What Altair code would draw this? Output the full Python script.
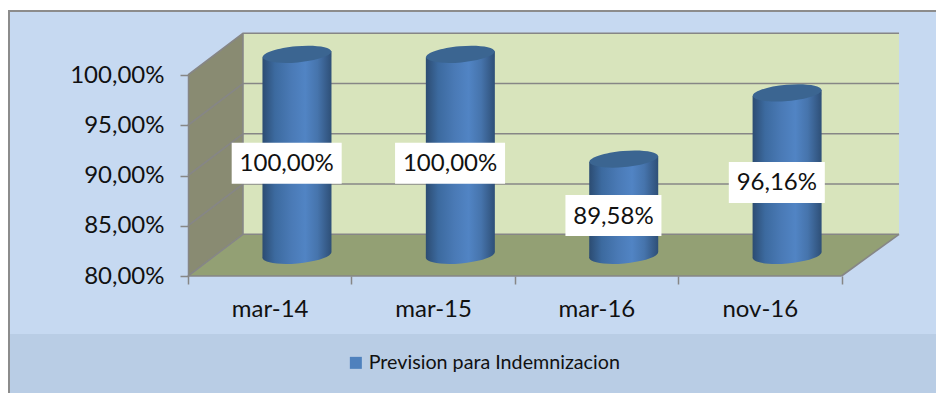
import altair as alt
import pandas as pd

categorias = ["mar-14", "mar-15", "mar-16", "nov-16"]
valores = [100.0, 100.0, 89.58, 96.16]
etiquetas = ["100,00%", "100,00%", "89,58%", "96,16%"]
serie = "Prevision para Indemnizacion"
y_ticks = [80, 85, 90, 95, 100]

FONT = "Lato"
GRID = "#868686"
DEPTH_L, DEPTH_R, DEPTH_Y = 0.3365, 0.352, 4.15
ELLIPSE = "M-0.996,0.087A1,0.24,-5,0,1,0.996,-0.087A1,0.24,-5,0,1,-0.996,0.087Z"
CIL_DX, CIL_HW, CIL_DY, CIL_SLANT = 0.167, 0.2112, 2.06, 0.3

df = pd.DataFrame({"cat": categorias, "valor": valores, "etiqueta": etiquetas})

y_axis = alt.Axis(
    values=y_ticks, title=None, grid=False, tickSize=8, tickColor=GRID, tickWidth=1.5,
    domainColor=GRID, domainWidth=1.5, labelFont=FONT, labelFontSize=24, labelColor="#111111",
    labelPadding=16, zindex=1,
    labelExpr="replace(format(datum.value,'.2f'),'.',',')+'%'",
)
y_scale = alt.Scale(domain=[80, 100], nice=False, zero=False, clamp=False)


def Y(field):
    return alt.Y(field, type="quantitative", scale=y_scale, axis=y_axis)


x_scale_q = alt.Scale(domain=[0, 4], nice=False, zero=False)
x_scale_b = alt.Scale(type="band", domain=categorias, paddingInner=0, paddingOuter=0)
X_Q = alt.X("x:Q", scale=x_scale_q, axis=None)
X_B = alt.X("cat:N", scale=x_scale_b, axis=None, sort=categorias)

# panel decoration
fondo = alt.Chart(pd.DataFrame({"a": [0]})).mark_rect(color="#C6D9F1").encode(
    x=alt.value(-180), x2=alt.value(760), y=alt.value(-65), y2=alt.value(330))
banda = alt.Chart(pd.DataFrame({"a": [0]})).mark_rect(color="#B9CDE5").encode(
    x=alt.value(-180), x2=alt.value(760), y=alt.value(259), y2=alt.value(330))
borde_top = alt.Chart(pd.DataFrame({"a": [0]})).mark_rule(color="#8C8C8C", strokeWidth=2).encode(
    x=alt.value(-180), x2=alt.value(760), y=alt.value(-64))
borde_izq = alt.Chart(pd.DataFrame({"a": [0]})).mark_rule(color="#8C8C8C", strokeWidth=2).encode(
    x=alt.value(-179), y=alt.value(-65), y2=alt.value(330))

leyenda = alt.Chart(pd.DataFrame({"serie": [serie]})).mark_square(size=0).encode(
    x=alt.value(0), y=alt.value(0),
    color=alt.Color("serie:N", scale=alt.Scale(range=["#4F81BD"]), legend=alt.Legend(
        orient="none", legendX=158, legendY=278, title=None, symbolType="square", symbolSize=144,
        symbolOpacity=1, symbolStrokeWidth=0, symbolFillColor="#4F81BD", labelFont=FONT, labelFontSize=19.7,
        labelColor="#111111", labelOffset=3, labelLimit=400, padding=0)))

# walls in data units of the projected box
pared_fondo = alt.Chart(pd.DataFrame({"x": [DEPTH_L], "x2": [4 + DEPTH_R], "y": [100 + DEPTH_Y], "y2": [80 + DEPTH_Y]})).mark_rect(
    color="#D8E4BC").encode(x=X_Q, x2="x2:Q", y=Y("y"), y2="y2:Q")
pared_lat = alt.Chart(pd.DataFrame({"x": [0, DEPTH_L], "y": [100, 100 + DEPTH_Y], "y2": [80, 80 + DEPTH_Y]})).mark_area(
    color="#898B72", opacity=1).encode(x=X_Q, y=Y("y"), y2="y2:Q")
piso = alt.Chart(pd.DataFrame({
    "x": [0, DEPTH_L, 4, 4 + DEPTH_R],
    "y": [80, 80 + DEPTH_Y, 80 + DEPTH_Y, 80 + DEPTH_Y],
    "y2": [80, 80, 80, 80 + DEPTH_Y]})).mark_area(color="#93A074", opacity=1).encode(x=X_Q, y=Y("y"), y2="y2:Q")

filas = []
for v in y_ticks:
    filas += [{"g": v, "o": 0, "x": 0, "y": v},
              {"g": v, "o": 1, "x": DEPTH_L, "y": v + DEPTH_Y},
              {"g": v, "o": 2, "x": 4 + DEPTH_R, "y": v + DEPTH_Y}]
rejilla = alt.Chart(pd.DataFrame(filas)).mark_line(color=GRID, strokeWidth=1.6).encode(
    x=X_Q, y=Y("y"), detail="g:N", order="o:Q")
aristas = alt.Chart(pd.DataFrame([
    {"g": "a", "o": 0, "x": DEPTH_L, "y": 80 + DEPTH_Y},
    {"g": "a", "o": 1, "x": DEPTH_L, "y": 100 + DEPTH_Y},
    {"g": "b", "o": 0, "x": 4, "y": 80},
    {"g": "b", "o": 1, "x": 4 + DEPTH_R, "y": 80 + DEPTH_Y},
    {"g": "c", "o": 0, "x": 0, "y": 80},
    {"g": "c", "o": 1, "x": 4, "y": 80},
])).mark_line(color=GRID, strokeWidth=1.6).encode(x=X_Q, y=Y("y"), detail="g:N", order="o:Q")

# x axis (band ticks at the category edges)
eje_x = alt.Chart(df).mark_point(opacity=0, size=0).encode(
    x=alt.X("cat:N", scale=x_scale_b, sort=categorias, axis=alt.Axis(
        title=None, tickBand="extent", tickSize=8, tickColor=GRID, tickWidth=1.5, domain=False, labelAngle=0,
        labelFont=FONT, labelFontSize=24, labelColor="#111111", labelPadding=13, zindex=1)),
    y=Y("valor"))

DX, DY = 27.3, -20.7
grad = alt.LinearGradient(gradient="linear", x1=0, x2=1, y1=0, y2=0, stops=[
    alt.GradientStop(color="#2C4C72", offset=0),
    alt.GradientStop(color="#3C6A9F", offset=0.18),
    alt.GradientStop(color="#4A7AB6", offset=0.42),
    alt.GradientStop(color="#5184C4", offset=0.62),
    alt.GradientStop(color="#4674AC", offset=0.8),
    alt.GradientStop(color="#2E4F77", offset=1),
])

# cylinder sides: slanted quads in data units, skewed like the ellipse caps
lados = []
for i, v in enumerate(valores):
    cx = i + 0.5 + CIL_DX
    lados += [{"g": i, "x": cx - CIL_HW, "y": v + CIL_DY - CIL_SLANT, "y2": 80 + CIL_DY - CIL_SLANT},
              {"g": i, "x": cx + CIL_HW, "y": v + CIL_DY + CIL_SLANT, "y2": 80 + CIL_DY + CIL_SLANT}]

base_cil = alt.Chart(df).transform_calculate(cero="80").mark_point(
    shape=ELLIPSE, size=4761, filled=True, fill=grad, strokeWidth=0, opacity=1, xOffset=DX, yOffset=DY
).encode(x=X_B, y=Y("cero"))
cuerpo = alt.Chart(pd.DataFrame(lados)).mark_area(fill=grad, opacity=1).encode(
    x=X_Q, y=alt.Y("y:Q", scale=y_scale, axis=y_axis, stack=None), y2="y2:Q", detail="g:N")
tapa = alt.Chart(df).mark_point(
    shape=ELLIPSE, size=4761, filled=True, fill="#3B6591", strokeWidth=0, opacity=1, xOffset=DX, yOffset=DY
).encode(x=X_B, y=Y("valor"))

MID = "(80+datum.valor)/2"
LX, LY = 17, -12.3
HALF = 2.04


def caja(filtro, ancho):
    return alt.Chart(df).transform_filter(filtro).transform_calculate(
        a=f"{MID}+{HALF}", b=f"{MID}-{HALF}"
    ).mark_bar(fill="#FFFFFF", width=ancho, xOffset=LX, x2Offset=LX, yOffset=LY, y2Offset=LY, opacity=1).encode(
        x=X_B, y=alt.Y("a:Q", scale=y_scale, axis=y_axis, stack=None), y2="b:Q")


caja_l = caja("length(datum.etiqueta)>6", 110)
caja_s = caja("length(datum.etiqueta)<=6", 96)
texto = alt.Chart(df).transform_calculate(m=MID).mark_text(
    font=FONT, fontSize=24, color="#111111", xOffset=LX, yOffset=LY + 1, align="center", baseline="middle"
).encode(x=X_B, y=Y("m"), text="etiqueta:N")

chart = alt.layer(
    fondo, banda, borde_top, borde_izq, leyenda, pared_fondo, pared_lat, piso, rejilla, aristas,
    eje_x, base_cil, cuerpo, tapa, caja_l, caja_s, texto,
).resolve_scale(x="independent").properties(
    width=653.5, height=201,
    autosize=alt.AutoSizeParams(type="none"),
    padding={"left": 180, "top": 67, "right": 94.5, "bottom": 117},
    background="#FFFFFF",
).configure_view(stroke=None)

chart.save("out.html", embed_options={"renderer": "svg", "actions": False})
